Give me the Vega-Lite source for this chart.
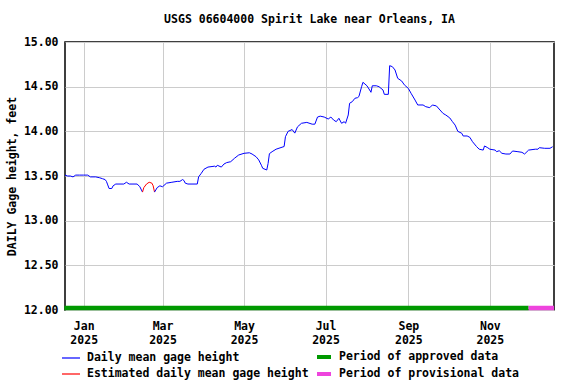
{
  "$schema": "https://vega.github.io/schema/vega-lite/v6.json",
  "width": 489,
  "height": 268,
  "autosize": "none",
  "padding": {"left": 65, "top": 42, "right": 22, "bottom": 74},
  "background": "white",
  "config": {
    "font": "DejaVu Sans Mono",
    "view": {"stroke": "#000000", "strokeWidth": 1.5},
    "axis": {"labelFont": "DejaVu Sans Mono", "labelFontWeight": "bold", "labelFontSize": 11.5, "labelColor": "#000", "titleFont": "DejaVu Sans Mono", "titleFontWeight": "bold", "titleFontSize": 11.5, "titleColor": "#000", "gridColor": "#cccccc", "gridWidth": 1, "gridOpacity": 1, "domain": false, "ticks": false},
    "legend": {"labelFont": "DejaVu Sans Mono", "labelFontWeight": "bold", "labelFontSize": 11.5, "labelColor": "#000", "labelLimit": 300, "labelOffset": 6, "symbolType": "stroke", "symbolSize": 324, "rowPadding": -2}
  },
  "title": {"text": "USGS 06604000 Spirit Lake near Orleans, IA", "font": "DejaVu Sans Mono", "fontSize": 11.5, "fontWeight": "bold", "color": "#000", "anchor": "middle", "offset": 11},
  "datasets": {
    "gage": [
      {"date": "2024-12-18", "h": 13.51, "cat": "Daily mean gage height", "seg": 1},
      {"date": "2024-12-20", "h": 13.50, "cat": "Daily mean gage height", "seg": 1},
      {"date": "2024-12-22", "h": 13.50, "cat": "Daily mean gage height", "seg": 1},
      {"date": "2024-12-24", "h": 13.49, "cat": "Daily mean gage height", "seg": 1},
      {"date": "2024-12-26", "h": 13.51, "cat": "Daily mean gage height", "seg": 1},
      {"date": "2024-12-29", "h": 13.51, "cat": "Daily mean gage height", "seg": 1},
      {"date": "2025-01-01", "h": 13.51, "cat": "Daily mean gage height", "seg": 1},
      {"date": "2025-01-04", "h": 13.51, "cat": "Daily mean gage height", "seg": 1},
      {"date": "2025-01-06", "h": 13.49, "cat": "Daily mean gage height", "seg": 1},
      {"date": "2025-01-10", "h": 13.49, "cat": "Daily mean gage height", "seg": 1},
      {"date": "2025-01-13", "h": 13.48, "cat": "Daily mean gage height", "seg": 1},
      {"date": "2025-01-15", "h": 13.47, "cat": "Daily mean gage height", "seg": 1},
      {"date": "2025-01-17", "h": 13.46, "cat": "Daily mean gage height", "seg": 1},
      {"date": "2025-01-18", "h": 13.44, "cat": "Daily mean gage height", "seg": 1},
      {"date": "2025-01-19", "h": 13.40, "cat": "Daily mean gage height", "seg": 1},
      {"date": "2025-01-20", "h": 13.36, "cat": "Daily mean gage height", "seg": 1},
      {"date": "2025-01-22", "h": 13.36, "cat": "Daily mean gage height", "seg": 1},
      {"date": "2025-01-23", "h": 13.39, "cat": "Daily mean gage height", "seg": 1},
      {"date": "2025-01-25", "h": 13.41, "cat": "Daily mean gage height", "seg": 1},
      {"date": "2025-01-31", "h": 13.41, "cat": "Daily mean gage height", "seg": 1},
      {"date": "2025-02-02", "h": 13.43, "cat": "Daily mean gage height", "seg": 1},
      {"date": "2025-02-04", "h": 13.41, "cat": "Daily mean gage height", "seg": 1},
      {"date": "2025-02-10", "h": 13.41, "cat": "Daily mean gage height", "seg": 1},
      {"date": "2025-02-12", "h": 13.38, "cat": "Daily mean gage height", "seg": 1},
      {"date": "2025-02-14", "h": 13.32, "cat": "Daily mean gage height", "seg": 1},
      {"date": "2025-02-14", "h": 13.32, "cat": "Estimated daily mean gage height", "seg": 2},
      {"date": "2025-02-15", "h": 13.37, "cat": "Estimated daily mean gage height", "seg": 2},
      {"date": "2025-02-17", "h": 13.41, "cat": "Estimated daily mean gage height", "seg": 2},
      {"date": "2025-02-19", "h": 13.43, "cat": "Estimated daily mean gage height", "seg": 2},
      {"date": "2025-02-21", "h": 13.42, "cat": "Estimated daily mean gage height", "seg": 2},
      {"date": "2025-02-22", "h": 13.39, "cat": "Estimated daily mean gage height", "seg": 2},
      {"date": "2025-02-23", "h": 13.32, "cat": "Estimated daily mean gage height", "seg": 2},
      {"date": "2025-02-23", "h": 13.32, "cat": "Daily mean gage height", "seg": 3},
      {"date": "2025-02-25", "h": 13.37, "cat": "Daily mean gage height", "seg": 3},
      {"date": "2025-02-27", "h": 13.39, "cat": "Daily mean gage height", "seg": 3},
      {"date": "2025-03-01", "h": 13.38, "cat": "Daily mean gage height", "seg": 3},
      {"date": "2025-03-04", "h": 13.42, "cat": "Daily mean gage height", "seg": 3},
      {"date": "2025-03-08", "h": 13.43, "cat": "Daily mean gage height", "seg": 3},
      {"date": "2025-03-12", "h": 13.44, "cat": "Daily mean gage height", "seg": 3},
      {"date": "2025-03-14", "h": 13.44, "cat": "Daily mean gage height", "seg": 3},
      {"date": "2025-03-16", "h": 13.46, "cat": "Daily mean gage height", "seg": 3},
      {"date": "2025-03-17", "h": 13.45, "cat": "Daily mean gage height", "seg": 3},
      {"date": "2025-03-18", "h": 13.42, "cat": "Daily mean gage height", "seg": 3},
      {"date": "2025-03-20", "h": 13.41, "cat": "Daily mean gage height", "seg": 3},
      {"date": "2025-03-27", "h": 13.41, "cat": "Daily mean gage height", "seg": 3},
      {"date": "2025-03-28", "h": 13.49, "cat": "Daily mean gage height", "seg": 3},
      {"date": "2025-03-30", "h": 13.53, "cat": "Daily mean gage height", "seg": 3},
      {"date": "2025-04-01", "h": 13.575, "cat": "Daily mean gage height", "seg": 3},
      {"date": "2025-04-04", "h": 13.60, "cat": "Daily mean gage height", "seg": 3},
      {"date": "2025-04-09", "h": 13.61, "cat": "Daily mean gage height", "seg": 3},
      {"date": "2025-04-10", "h": 13.60, "cat": "Daily mean gage height", "seg": 3},
      {"date": "2025-04-11", "h": 13.62, "cat": "Daily mean gage height", "seg": 3},
      {"date": "2025-04-14", "h": 13.60, "cat": "Daily mean gage height", "seg": 3},
      {"date": "2025-04-16", "h": 13.634, "cat": "Daily mean gage height", "seg": 3},
      {"date": "2025-04-18", "h": 13.65, "cat": "Daily mean gage height", "seg": 3},
      {"date": "2025-04-21", "h": 13.66, "cat": "Daily mean gage height", "seg": 3},
      {"date": "2025-04-24", "h": 13.70, "cat": "Daily mean gage height", "seg": 3},
      {"date": "2025-04-27", "h": 13.735, "cat": "Daily mean gage height", "seg": 3},
      {"date": "2025-05-01", "h": 13.754, "cat": "Daily mean gage height", "seg": 3},
      {"date": "2025-05-05", "h": 13.76, "cat": "Daily mean gage height", "seg": 3},
      {"date": "2025-05-07", "h": 13.746, "cat": "Daily mean gage height", "seg": 3},
      {"date": "2025-05-10", "h": 13.716, "cat": "Daily mean gage height", "seg": 3},
      {"date": "2025-05-12", "h": 13.68, "cat": "Daily mean gage height", "seg": 3},
      {"date": "2025-05-14", "h": 13.62, "cat": "Daily mean gage height", "seg": 3},
      {"date": "2025-05-15", "h": 13.586, "cat": "Daily mean gage height", "seg": 3},
      {"date": "2025-05-18", "h": 13.567, "cat": "Daily mean gage height", "seg": 3},
      {"date": "2025-05-19", "h": 13.64, "cat": "Daily mean gage height", "seg": 3},
      {"date": "2025-05-20", "h": 13.75, "cat": "Daily mean gage height", "seg": 3},
      {"date": "2025-05-22", "h": 13.772, "cat": "Daily mean gage height", "seg": 3},
      {"date": "2025-05-25", "h": 13.80, "cat": "Daily mean gage height", "seg": 3},
      {"date": "2025-05-31", "h": 13.83, "cat": "Daily mean gage height", "seg": 3},
      {"date": "2025-06-01", "h": 13.94, "cat": "Daily mean gage height", "seg": 3},
      {"date": "2025-06-03", "h": 14.00, "cat": "Daily mean gage height", "seg": 3},
      {"date": "2025-06-06", "h": 14.02, "cat": "Daily mean gage height", "seg": 3},
      {"date": "2025-06-08", "h": 13.98, "cat": "Daily mean gage height", "seg": 3},
      {"date": "2025-06-10", "h": 14.05, "cat": "Daily mean gage height", "seg": 3},
      {"date": "2025-06-13", "h": 14.09, "cat": "Daily mean gage height", "seg": 3},
      {"date": "2025-06-17", "h": 14.10, "cat": "Daily mean gage height", "seg": 3},
      {"date": "2025-06-21", "h": 14.08, "cat": "Daily mean gage height", "seg": 3},
      {"date": "2025-06-23", "h": 14.08, "cat": "Daily mean gage height", "seg": 3},
      {"date": "2025-06-25", "h": 14.16, "cat": "Daily mean gage height", "seg": 3},
      {"date": "2025-06-27", "h": 14.17, "cat": "Daily mean gage height", "seg": 3},
      {"date": "2025-06-30", "h": 14.16, "cat": "Daily mean gage height", "seg": 3},
      {"date": "2025-07-03", "h": 14.138, "cat": "Daily mean gage height", "seg": 3},
      {"date": "2025-07-05", "h": 14.16, "cat": "Daily mean gage height", "seg": 3},
      {"date": "2025-07-07", "h": 14.127, "cat": "Daily mean gage height", "seg": 3},
      {"date": "2025-07-09", "h": 14.108, "cat": "Daily mean gage height", "seg": 3},
      {"date": "2025-07-11", "h": 14.146, "cat": "Daily mean gage height", "seg": 3},
      {"date": "2025-07-13", "h": 14.09, "cat": "Daily mean gage height", "seg": 3},
      {"date": "2025-07-15", "h": 14.108, "cat": "Daily mean gage height", "seg": 3},
      {"date": "2025-07-16", "h": 14.09, "cat": "Daily mean gage height", "seg": 3},
      {"date": "2025-07-18", "h": 14.183, "cat": "Daily mean gage height", "seg": 3},
      {"date": "2025-07-19", "h": 14.314, "cat": "Daily mean gage height", "seg": 3},
      {"date": "2025-07-21", "h": 14.332, "cat": "Daily mean gage height", "seg": 3},
      {"date": "2025-07-23", "h": 14.37, "cat": "Daily mean gage height", "seg": 3},
      {"date": "2025-07-25", "h": 14.377, "cat": "Daily mean gage height", "seg": 3},
      {"date": "2025-07-26", "h": 14.39, "cat": "Daily mean gage height", "seg": 3},
      {"date": "2025-07-28", "h": 14.50, "cat": "Daily mean gage height", "seg": 3},
      {"date": "2025-07-29", "h": 14.549, "cat": "Daily mean gage height", "seg": 3},
      {"date": "2025-08-01", "h": 14.51, "cat": "Daily mean gage height", "seg": 3},
      {"date": "2025-08-03", "h": 14.463, "cat": "Daily mean gage height", "seg": 3},
      {"date": "2025-08-04", "h": 14.437, "cat": "Daily mean gage height", "seg": 3},
      {"date": "2025-08-05", "h": 14.51, "cat": "Daily mean gage height", "seg": 3},
      {"date": "2025-08-08", "h": 14.51, "cat": "Daily mean gage height", "seg": 3},
      {"date": "2025-08-10", "h": 14.50, "cat": "Daily mean gage height", "seg": 3},
      {"date": "2025-08-13", "h": 14.463, "cat": "Daily mean gage height", "seg": 3},
      {"date": "2025-08-14", "h": 14.414, "cat": "Daily mean gage height", "seg": 3},
      {"date": "2025-08-17", "h": 14.414, "cat": "Daily mean gage height", "seg": 3},
      {"date": "2025-08-18", "h": 14.735, "cat": "Daily mean gage height", "seg": 3},
      {"date": "2025-08-20", "h": 14.724, "cat": "Daily mean gage height", "seg": 3},
      {"date": "2025-08-22", "h": 14.687, "cat": "Daily mean gage height", "seg": 3},
      {"date": "2025-08-24", "h": 14.594, "cat": "Daily mean gage height", "seg": 3},
      {"date": "2025-08-27", "h": 14.563, "cat": "Daily mean gage height", "seg": 3},
      {"date": "2025-08-29", "h": 14.52, "cat": "Daily mean gage height", "seg": 3},
      {"date": "2025-09-01", "h": 14.48, "cat": "Daily mean gage height", "seg": 3},
      {"date": "2025-09-03", "h": 14.426, "cat": "Daily mean gage height", "seg": 3},
      {"date": "2025-09-06", "h": 14.35, "cat": "Daily mean gage height", "seg": 3},
      {"date": "2025-09-08", "h": 14.295, "cat": "Daily mean gage height", "seg": 3},
      {"date": "2025-09-12", "h": 14.295, "cat": "Daily mean gage height", "seg": 3},
      {"date": "2025-09-14", "h": 14.276, "cat": "Daily mean gage height", "seg": 3},
      {"date": "2025-09-17", "h": 14.265, "cat": "Daily mean gage height", "seg": 3},
      {"date": "2025-09-19", "h": 14.295, "cat": "Daily mean gage height", "seg": 3},
      {"date": "2025-09-22", "h": 14.284, "cat": "Daily mean gage height", "seg": 3},
      {"date": "2025-09-24", "h": 14.25, "cat": "Daily mean gage height", "seg": 3},
      {"date": "2025-09-27", "h": 14.20, "cat": "Daily mean gage height", "seg": 3},
      {"date": "2025-09-29", "h": 14.183, "cat": "Daily mean gage height", "seg": 3},
      {"date": "2025-10-02", "h": 14.15, "cat": "Daily mean gage height", "seg": 3},
      {"date": "2025-10-04", "h": 14.108, "cat": "Daily mean gage height", "seg": 3},
      {"date": "2025-10-06", "h": 14.07, "cat": "Daily mean gage height", "seg": 3},
      {"date": "2025-10-08", "h": 14.00, "cat": "Daily mean gage height", "seg": 3},
      {"date": "2025-10-11", "h": 13.978, "cat": "Daily mean gage height", "seg": 3},
      {"date": "2025-10-12", "h": 13.948, "cat": "Daily mean gage height", "seg": 3},
      {"date": "2025-10-15", "h": 13.948, "cat": "Daily mean gage height", "seg": 3},
      {"date": "2025-10-17", "h": 13.933, "cat": "Daily mean gage height", "seg": 3},
      {"date": "2025-10-19", "h": 13.884, "cat": "Daily mean gage height", "seg": 3},
      {"date": "2025-10-22", "h": 13.83, "cat": "Daily mean gage height", "seg": 3},
      {"date": "2025-10-24", "h": 13.80, "cat": "Daily mean gage height", "seg": 3},
      {"date": "2025-10-27", "h": 13.79, "cat": "Daily mean gage height", "seg": 3},
      {"date": "2025-10-28", "h": 13.836, "cat": "Daily mean gage height", "seg": 3},
      {"date": "2025-10-30", "h": 13.82, "cat": "Daily mean gage height", "seg": 3},
      {"date": "2025-11-01", "h": 13.80, "cat": "Daily mean gage height", "seg": 3},
      {"date": "2025-11-05", "h": 13.79, "cat": "Daily mean gage height", "seg": 3},
      {"date": "2025-11-06", "h": 13.772, "cat": "Daily mean gage height", "seg": 3},
      {"date": "2025-11-08", "h": 13.783, "cat": "Daily mean gage height", "seg": 3},
      {"date": "2025-11-10", "h": 13.754, "cat": "Daily mean gage height", "seg": 3},
      {"date": "2025-11-13", "h": 13.746, "cat": "Daily mean gage height", "seg": 3},
      {"date": "2025-11-16", "h": 13.746, "cat": "Daily mean gage height", "seg": 3},
      {"date": "2025-11-18", "h": 13.78, "cat": "Daily mean gage height", "seg": 3},
      {"date": "2025-11-22", "h": 13.772, "cat": "Daily mean gage height", "seg": 3},
      {"date": "2025-11-25", "h": 13.765, "cat": "Daily mean gage height", "seg": 3},
      {"date": "2025-11-27", "h": 13.746, "cat": "Daily mean gage height", "seg": 3},
      {"date": "2025-11-30", "h": 13.79, "cat": "Daily mean gage height", "seg": 3},
      {"date": "2025-12-05", "h": 13.80, "cat": "Daily mean gage height", "seg": 3},
      {"date": "2025-12-07", "h": 13.80, "cat": "Daily mean gage height", "seg": 3},
      {"date": "2025-12-08", "h": 13.817, "cat": "Daily mean gage height", "seg": 3},
      {"date": "2025-12-12", "h": 13.81, "cat": "Daily mean gage height", "seg": 3},
      {"date": "2025-12-16", "h": 13.81, "cat": "Daily mean gage height", "seg": 3},
      {"date": "2025-12-18", "h": 13.828, "cat": "Daily mean gage height", "seg": 3}
    ],
    "periods": [
      {"start": "2024-12-17T12:00:00Z", "end": "2025-11-30", "base": 12, "period": "Period of approved data"},
      {"start": "2025-11-30", "end": "2025-12-19", "base": 12, "period": "Period of provisional data"}
    ]
  },
  "layer": [
    {
      "data": {"name": "gage"},
      "mark": {"type": "line", "strokeWidth": 1},
      "encoding": {
        "x": {"field": "date", "type": "temporal", "scale": {"type": "utc", "domain": [{"year": 2024, "month": 12, "date": 18, "utc": true}, {"year": 2025, "month": 12, "date": 19, "utc": true}]},
          "axis": {"title": null, "grid": true, "labelPadding": 10, "labelLineHeight": 14, "labelAlign": "center", "labelBaseline": "top", "labelOverlap": false, "labelFlush": false,
            "values": [{"year": 2025, "month": 1, "date": 1, "utc": true}, {"year": 2025, "month": 3, "date": 1, "utc": true}, {"year": 2025, "month": 5, "date": 1, "utc": true}, {"year": 2025, "month": 7, "date": 1, "utc": true}, {"year": 2025, "month": 9, "date": 1, "utc": true}, {"year": 2025, "month": 11, "date": 1, "utc": true}],
            "labelExpr": "[utcFormat(datum.value, '%b'), utcFormat(datum.value, '%Y')]"}},
        "y": {"field": "h", "type": "quantitative", "scale": {"domain": [12, 15], "nice": false, "zero": false},
          "axis": {"title": "DAILY Gage height, feet", "values": [12, 12.5, 13, 13.5, 14, 14.5, 15], "format": ".2f", "labelPadding": 7, "titlePadding": 6}},
        "color": {"field": "cat", "type": "nominal",
          "scale": {"domain": ["Daily mean gage height", "Estimated daily mean gage height"], "range": ["#0000ff", "#ff0000"]},
          "legend": {"title": null, "orient": "none", "legendX": -4, "legendY": 306, "symbolStrokeWidth": 1.2}},
        "detail": {"field": "seg", "type": "nominal"}
      }
    },
    {
      "data": {"name": "periods"},
      "mark": {"type": "rule", "strokeWidth": 4.5, "yOffset": -2},
      "encoding": {
        "x": {"field": "start", "type": "temporal"},
        "x2": {"field": "end"},
        "y": {"field": "base", "type": "quantitative"},
        "stroke": {"field": "period", "type": "nominal",
          "scale": {"domain": ["Period of approved data", "Period of provisional data"], "range": ["#009900", "#ee44dd"]},
          "legend": {"title": null, "orient": "none", "legendX": 250, "legendY": 306, "symbolSize": 196, "symbolStrokeWidth": 4}}
      }
    }
  ]
}
